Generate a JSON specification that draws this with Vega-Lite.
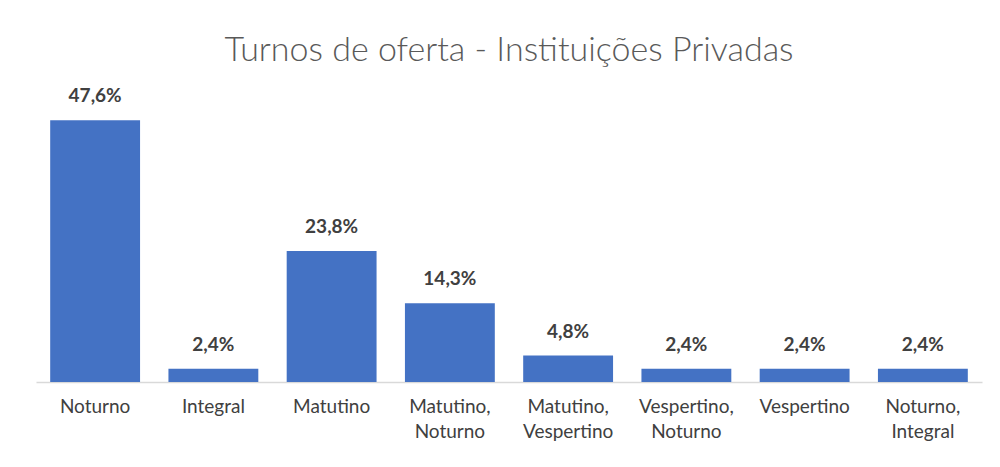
{
  "$schema": "https://vega.github.io/schema/vega-lite/v6.json",
  "width": 946,
  "height": 275,
  "autosize": "none",
  "padding": {"left": 36, "top": 107, "right": 18, "bottom": 85},
  "background": "#ffffff",
  "config": {
    "locale": {"number": {"decimal": ",", "thousands": ".", "grouping": [3], "currency": ["R$", ""]}},
    "view": {"stroke": null},
    "font": "Lato"
  },
  "title": {
    "text": "Turnos de oferta - Instituições Privadas",
    "font": "Lato",
    "fontSize": 34,
    "fontWeight": 300,
    "color": "#595959",
    "anchor": "middle",
    "offset": 19
  },
  "data": {
    "values": [
      {"turno": "Noturno", "valor": 0.476},
      {"turno": "Integral", "valor": 0.024},
      {"turno": "Matutino", "valor": 0.238},
      {"turno": "Matutino, Noturno", "valor": 0.143},
      {"turno": "Matutino, Vespertino", "valor": 0.048},
      {"turno": "Vespertino, Noturno", "valor": 0.024},
      {"turno": "Vespertino", "valor": 0.024},
      {"turno": "Noturno, Integral", "valor": 0.024}
    ]
  },
  "encoding": {
    "x": {
      "field": "turno",
      "type": "nominal",
      "sort": null,
      "scale": {"paddingInner": 0.24, "paddingOuter": 0.12},
      "axis": {
        "title": null,
        "labelAngle": 0,
        "labelExpr": "split(datum.label, ' ')",
        "labelFont": "Lato",
        "labelFontSize": 19,
        "labelColor": "#404040",
        "labelLineHeight": 25,
        "labelPadding": 15,
        "labelBaseline": "top",
        "ticks": false,
        "domainColor": "#d9d9d9",
        "domainWidth": 1.5
      }
    },
    "y": {
      "field": "valor",
      "type": "quantitative",
      "scale": {"domain": [0, 0.5]},
      "axis": null
    }
  },
  "layer": [
    {"mark": {"type": "bar", "color": "#4472c4"}},
    {
      "mark": {"type": "text", "baseline": "bottom", "dy": -14, "font": "Lato", "fontSize": 19, "fontWeight": "bold", "color": "#404040"},
      "encoding": {"text": {"field": "valor", "type": "quantitative", "format": ".1%"}}
    }
  ]
}
